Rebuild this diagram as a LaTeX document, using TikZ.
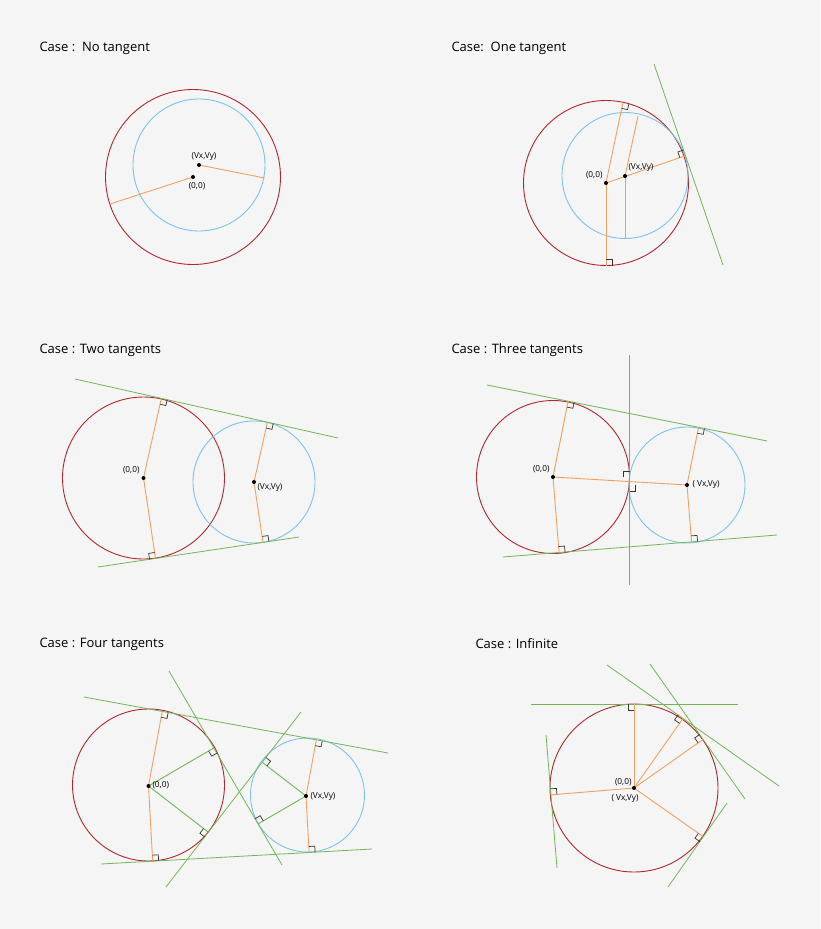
\documentclass[tikz,border=0pt]{standalone}
\usepackage{fontspec}
\setmainfont{Open Sans}
\usetikzlibrary{calc}
\definecolor{bg}{HTML}{F5F5F5}
\definecolor{cred}{HTML}{B0282E}
\definecolor{cblue}{HTML}{7CC4E6}
\definecolor{corange}{HTML}{F0A062}
\definecolor{cgreen}{HTML}{72B556}
\tikzset{
  redc/.style={draw=cred,line width=0.9pt},
  bluec/.style={draw=cblue,line width=0.9pt},
  tang/.style={draw=cgreen,line width=0.8pt},
  rad/.style={draw=corange,line width=0.9pt},
  grad/.style={draw=cgreen,line width=0.9pt},
  ramark/.style={draw=black!80,line width=0.7pt},
  title/.style={anchor=west,font=\fontsize{13}{15}\selectfont},
  lab/.style={font=\fontsize{8.3}{10}\selectfont},
}
\newcommand\ra[3]{%
  \draw[ramark] let \p1=($(#2)-(#1)$), \n1={atan2(\y1,\x1)}, \n2={\n1+#3*90} in
    ($(#1)+(\n1:6pt)$) -- ($(#1)+(\n1:6pt)+(\n2:6pt)$) -- ($(#1)+(\n2:6pt)$);}
\newcommand\dotat[1]{\fill (#1) circle[radius=2pt];}
\begin{document}
\begin{tikzpicture}[x=1pt,y=-1pt]
\fill[bg] (0,0) rectangle (820,929);
\useasboundingbox (0,0) rectangle (820,929);
% ---------- Panel 1
\node[title] (t1) at (36,48) {Case :\ \ No tangent};
\coordinate (O1) at (193,177); \coordinate (V1) at (199,165);
\draw[redc] (O1) circle[radius=87.5pt];
\draw[bluec] (V1) circle[radius=66pt];
\coordinate (p1a) at (264.5,178); \coordinate (p1b) at (110,204);
\draw[rad] (V1) -- (p1a); \draw[rad] (O1) -- (p1b);
\dotat{O1}\dotat{V1}
\node[lab,anchor=south] (lv1) at (204,164) {(Vx,Vy)};
\node[lab,anchor=north] (lo1) at (197,179) {(0,0)};
% ---------- Panel 2
\node[title] (t2) at (448,48) {Case:\ \ One tangent};
\coordinate (O2) at (606,183); \coordinate (V2) at (625,176);
\draw[redc] (O2) circle[radius=82.5pt];
\draw[bluec] (625,175.5) circle[radius=63pt];
\coordinate (A2) at (654,64); \coordinate (B2) at (723,265);
\draw[tang] (A2) -- (B2);
\coordinate (T2) at ($(A2)!(O2)!(B2)$);
\coordinate (q2a) at (623,102.5); \coordinate (q2b) at (606,265.5);
\coordinate (q2c) at (638,116); \coordinate (q2d) at (625,238.5);
\draw[rad] (O2) -- (T2); \draw[rad] (O2) -- (q2a); \draw[rad] (O2) -- (q2b);
\draw[rad] (V2) -- (q2c); \draw[rad] (V2) -- (q2d);
\ra{T2}{O2}{-1}\ra{q2a}{O2}{1}\ra{q2b}{O2}{-1}
\dotat{O2}\dotat{V2}
\node[lab,anchor=south east] (lo2) at (606,182) {(0,0)};
\node[lab,anchor=south west] (lv2) at (625,175) {(Vx,Vy)};
% ---------- Panel 3
\node[title] (t3) at (36,350) {Case : Two tangents};
\coordinate (O3) at (143.5,478); \coordinate (V3) at (254,482);
\draw[redc] (O3) circle[radius=81pt];
\draw[bluec] (V3) circle[radius=61pt];
\coordinate (A3) at (75,379); \coordinate (B3) at (338,438);
\coordinate (C3) at (98,567); \coordinate (D3) at (299,537);
\draw[tang] (A3) -- (B3); \draw[tang] (C3) -- (D3);
\coordinate (T3a) at ($(A3)!(O3)!(B3)$); \coordinate (T3b) at ($(C3)!(O3)!(D3)$);
\coordinate (T3c) at ($(A3)!(V3)!(B3)$); \coordinate (T3d) at ($(C3)!(V3)!(D3)$);
\draw[rad] (T3a) -- (O3) -- (T3b); \draw[rad] (T3c) -- (V3) -- (T3d);
\ra{T3a}{O3}{1}\ra{T3b}{O3}{1}\ra{T3c}{V3}{1}\ra{T3d}{V3}{-1}
\dotat{O3}\dotat{V3}
\node[lab,anchor=south east] (lo3) at (143,477) {(0,0)};
\node[lab,anchor=north west] (lv3) at (254,480) {(Vx,Vy)};
% ---------- Panel 4
\node[title] (t4) at (448,350) {Case : Three tangents};
\coordinate (O4) at (553,477); \coordinate (V4) at (687,485);
\draw[redc] (O4) circle[radius=76.5pt];
\draw[bluec] (V4) circle[radius=58pt];
\coordinate (A4) at (487,385); \coordinate (B4) at (767,441);
\coordinate (C4) at (503,557); \coordinate (D4) at (777,535);
\coordinate (E4) at (629.5,355); \coordinate (F4) at (629.5,585);
\draw[tang] (A4) -- (B4); \draw[tang] (C4) -- (D4); \draw[tang] (E4) -- (F4);
\coordinate (T4a) at ($(A4)!(O4)!(B4)$); \coordinate (T4b) at ($(C4)!(O4)!(D4)$);
\coordinate (T4c) at ($(A4)!(V4)!(B4)$); \coordinate (T4d) at ($(C4)!(V4)!(D4)$);
\coordinate (T4e) at ($(E4)!(O4)!(F4)$); \coordinate (T4f) at ($(E4)!(V4)!(F4)$);
\draw[rad] (T4a) -- (O4) -- (T4b); \draw[rad] (T4c) -- (V4) -- (T4d);
\draw[rad] (O4) -- (V4);
\ra{T4a}{O4}{1}\ra{T4b}{O4}{-1}\ra{T4c}{V4}{1}\ra{T4d}{V4}{-1}
\ra{T4e}{O4}{-1}\ra{T4f}{V4}{-1}
\dotat{O4}\dotat{V4}
\node[lab,anchor=south east] (lo4) at (553,476) {(0,0)};
\node[lab,anchor=west] (lv4) at (689,485) {( Vx,Vy)};
% ---------- Panel 5
\node[title] (t5) at (36,644) {Case : Four tangents};
\coordinate (O5) at (148.5,786); \coordinate (V5) at (306,796);
\draw[redc] (148.5,785) circle[radius=76pt];
\draw[bluec] (307.5,795) circle[radius=57pt];
\coordinate (A5) at (84,697); \coordinate (B5) at (388,753);
\coordinate (C5) at (101,864); \coordinate (D5) at (372,849);
\coordinate (E5) at (169,671); \coordinate (F5) at (282,865);
\coordinate (G5) at (166,887); \coordinate (H5) at (301,712);
\draw[tang] (A5) -- (B5); \draw[tang] (C5) -- (D5);
\draw[tang] (E5) -- (F5); \draw[tang] (G5) -- (H5);
\coordinate (T5a) at ($(A5)!(O5)!(B5)$); \coordinate (T5b) at ($(C5)!(O5)!(D5)$);
\coordinate (T5c) at ($(A5)!(V5)!(B5)$); \coordinate (T5d) at ($(C5)!(V5)!(D5)$);
\coordinate (T5e) at ($(E5)!(O5)!(F5)$); \coordinate (T5f) at ($(G5)!(O5)!(H5)$);
\coordinate (T5g) at ($(E5)!(V5)!(F5)$); \coordinate (T5h) at ($(G5)!(V5)!(H5)$);
\draw[rad] (T5a) -- (O5) -- (T5b); \draw[rad] (T5c) -- (V5) -- (T5d);
\draw[grad] (T5e) -- (O5) -- (T5f); \draw[grad] (T5g) -- (V5) -- (T5h);
\ra{T5a}{O5}{1}\ra{T5b}{O5}{-1}\ra{T5c}{V5}{1}\ra{T5d}{V5}{-1}
\ra{T5e}{O5}{1}\ra{T5f}{O5}{1}\ra{T5g}{V5}{1}\ra{T5h}{V5}{1}
\dotat{O5}\dotat{V5}
\node[lab,anchor=west] (lo5) at (149,785) {(0,0)};
\node[lab,anchor=west] (lv5) at (307,797) {(Vx,Vy)};
% ---------- Panel 6
\node[title] (t6) at (472,644) {Case : Infinite};
\coordinate (O6) at (634,788);
\draw[redc] (O6) circle[radius=84pt];
\coordinate (A6) at (531,704); \coordinate (B6) at (738,704);
\coordinate (C6) at (546,735); \coordinate (D6) at (557,868);
\coordinate (E6) at (607,665); \coordinate (F6) at (779,786);
\coordinate (G6) at (650,664); \coordinate (H6) at (745,799);
\coordinate (I6) at (727,803); \coordinate (J6) at (668,887);
\foreach \a/\b in {A6/B6,C6/D6,E6/F6,G6/H6,I6/J6}{\draw[tang] (\a) -- (\b);}
\coordinate (T6a) at ($(A6)!(O6)!(B6)$); \coordinate (T6b) at ($(C6)!(O6)!(D6)$);
\coordinate (T6c) at ($(E6)!(O6)!(F6)$); \coordinate (T6d) at ($(G6)!(O6)!(H6)$);
\coordinate (T6e) at ($(I6)!(O6)!(J6)$);
\foreach \t in {T6a,T6b,T6c,T6d,T6e}{\draw[rad] (O6) -- (\t);}
\ra{T6a}{O6}{-1}\ra{T6b}{O6}{1}\ra{T6c}{O6}{-1}\ra{T6d}{O6}{-1}\ra{T6e}{O6}{1}
\dotat{O6}
\node[lab,anchor=south east] (lo6) at (635,789) {(0,0)};
\node[lab,anchor=north] (lv6) at (625,791) {( Vx,Vy)};
\end{tikzpicture}
\end{document}
